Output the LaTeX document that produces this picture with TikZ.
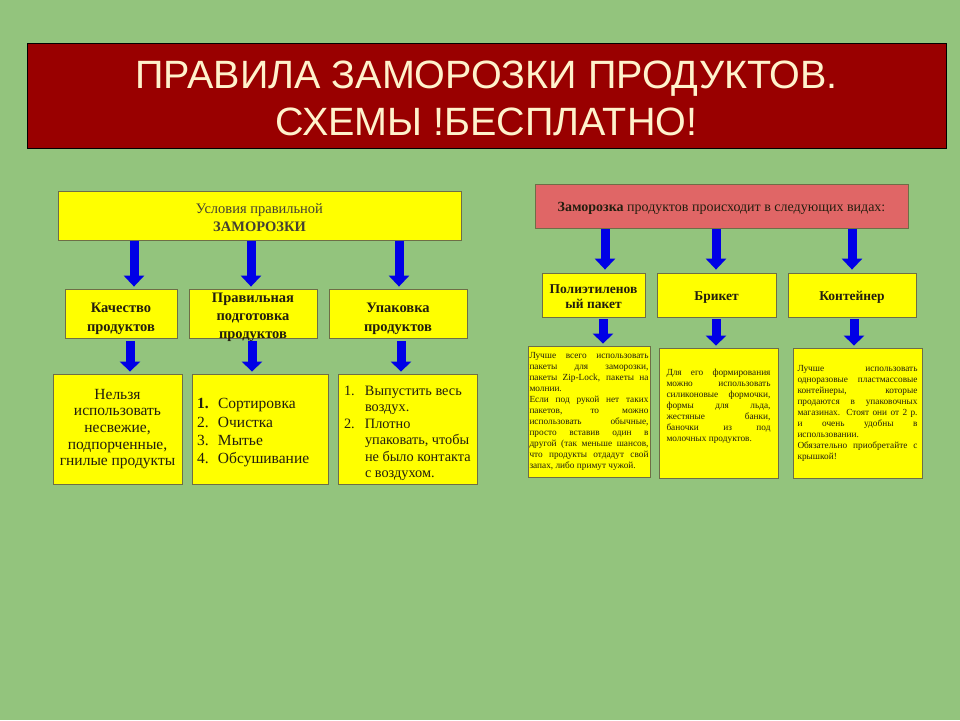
\documentclass[tikz,border=0pt]{standalone}
\usepackage{fontspec}
\setmainfont{Liberation Serif}
\newfontfamily\titlefont{Liberation Sans}
\usetikzlibrary{arrows.meta}
\definecolor{bg}{HTML}{93C47D}
\definecolor{darkred}{HTML}{990000}
\definecolor{cream}{HTML}{FFF2CC}
\definecolor{pinkred}{HTML}{E06666}
\definecolor{ylw}{HTML}{FFFF00}
\definecolor{edge}{RGB}{110,110,70}
\definecolor{arrowblue}{RGB}{0,0,230}
\definecolor{txt}{RGB}{35,30,15}
\newcommand{\jfont}{\fontsize{9.3}{11}\selectfont\parindent0pt\hyphenpenalty10000\exhyphenpenalty10000\relax}
\tikzset{
  ybox/.style={draw=edge, fill=ylw, line width=0.8pt, inner sep=0pt, align=center, text=txt},
  barrow/.style={draw=arrowblue, line width=9pt, -{Triangle[width=20pt,length=11pt]}},
  sarrow/.style={draw=arrowblue, line width=9pt, -{Triangle[width=20pt,length=10pt]}},
  jtext/.style={align=justify, font=\jfont},
}
\newcommand{\numitem}[1]{\makebox[21pt][l]{#1}}
% raise, width, content (centred)
\newcommand{\placed}[3]{\smash{\raisebox{#1}{\parbox[c]{#2}{\centering #3}}}}
% raise, width, content (left)
\newcommand{\placedl}[3]{\smash{\raisebox{#1}{\parbox[c]{#2}{\raggedright #3}}}}
\begin{document}
\begin{tikzpicture}[x=1pt,y=-1pt]
\fill[bg] (0,0) rectangle (960,720);
\useasboundingbox (0,0) rectangle (960,720);

% title
\node[draw=black, fill=darkred, line width=1pt, minimum width=919pt, minimum height=105pt,
  inner sep=0pt, text=cream, align=center, font=\titlefont\fontsize{39.5}{47}\selectfont]
  (title) at (486.5,95.5) {\placed{-9pt}{900pt}{ПРАВИЛА ЗАМОРОЗКИ ПРОДУКТОВ.\\СХЕМЫ !БЕСПЛАТНО!}};

% ---------- left panel ----------
\node[ybox, minimum width=403pt, minimum height=49pt, font=\fontsize{14.5}{18}\selectfont]
  (top) at (259.5,215.5) {\placed{-6pt}{300pt}{\color{txt!85}Условия правильной\\\textbf{ЗАМОРОЗКИ}}};

\node[ybox, minimum width=112pt, minimum height=49pt, font=\bfseries\fontsize{14.5}{19}\selectfont]
  (k1) at (121,313.5) {\placed{-9pt}{110pt}{Качество\\продуктов}};
\node[ybox, minimum width=128pt, minimum height=49pt, font=\bfseries\fontsize{14.5}{18}\selectfont]
  (k2) at (253,313.5) {\placed{-7.5pt}{126pt}{Правильная\\подготовка\\продуктов}};
\node[ybox, minimum width=138pt, minimum height=49pt, font=\bfseries\fontsize{14.5}{19}\selectfont]
  (k3) at (398,313.5) {\placed{-9pt}{136pt}{Упаковка\\продуктов}};

\node[ybox, minimum width=129pt, minimum height=110pt, font=\fontsize{15.5}{16.7}\selectfont]
  (b1) at (117.5,429) {Нельзя\\использовать\\несвежие,\\подпорченные,\\гнилые продукты};
\node[ybox, minimum width=136pt, minimum height=110pt, font=\fontsize{15.5}{18.3}\selectfont]
  (b2) at (260,429) {\placedl{-7.5pt}{126pt}{\numitem{\textbf{1.}}Сортировка\\\numitem{2.}Очистка\\\numitem{3.}Мытье\\\numitem{4.}Обсушивание}};
\node[ybox, minimum width=139pt, minimum height=110pt, font=\fontsize{14.3}{16.4}\selectfont]
  (b3) at (407.5,429) {\placedl{-8pt}{127pt}{\mbox{\numitem{1.}Выпустить весь}\\\mbox{\numitem{}воздух.}\\\mbox{\numitem{2.}Плотно}\\\mbox{\numitem{}упаковать, чтобы}\\\mbox{\numitem{}не было контакта}\\\mbox{\numitem{}с воздухом.}}};

\draw[barrow, shorten <=1pt, shorten >=2pt] (top.south -| 134,0) -- (k1.north -| 134,0);
\draw[barrow, shorten <=1pt, shorten >=2pt] (top.south -| 251,0) -- (k2.north -| 251,0);
\draw[barrow, shorten <=1pt, shorten >=2pt] (top.south -| 399,0) -- (k3.north -| 399,0);
\draw[sarrow, shorten <=3pt, shorten >=2pt] (k1.south -| 130,0) -- (b1.north -| 130,0);
\draw[sarrow, shorten <=3pt, shorten >=2pt] (k2.south -| 252,0) -- (b2.north -| 252,0);
\draw[sarrow, shorten <=3pt, shorten >=2pt] (k3.south -| 401,0) -- (b3.north -| 401,0);

% ---------- right panel ----------
\node[draw=edge, fill=pinkred, line width=0.8pt, inner sep=0pt, minimum width=373pt, minimum height=44pt,
  text=txt, font=\fontsize{14}{16}\selectfont]
  (red) at (721.5,206) {\placed{-6pt}{370pt}{\textbf{Заморозка} продуктов происходит в следующих видах:}};

\node[ybox, minimum width=103pt, minimum height=44pt, font=\bfseries\fontsize{13.5}{15.5}\selectfont]
  (p1) at (593.5,295) {\placed{-5pt}{101pt}{Полиэтиленов\\ый пакет}};
\node[ybox, minimum width=119pt, minimum height=44pt, font=\bfseries\fontsize{13.5}{15.5}\selectfont]
  (p2) at (716.5,295) {\placed{-6pt}{117pt}{Брикет}};
\node[ybox, minimum width=128pt, minimum height=44pt, font=\bfseries\fontsize{13.5}{15.5}\selectfont]
  (p3) at (852,295) {\placed{-6pt}{126pt}{Контейнер}};

\node[ybox, jtext, minimum width=122pt, minimum height=131pt, text width=119pt]
  (q1) at (589,411.5) {Лучше всего использовать\linebreak пакеты для заморозки,\linebreak пакеты Zip-Lock, пакеты на\linebreak молнии.\par
Если под рукой нет таких\linebreak пакетов, то можно\linebreak использовать обычные,\linebreak просто вставив один в\linebreak другой (так меньше шансов,\linebreak что продукты отдадут свой\linebreak запах, либо примут чужой.};
\node[ybox, jtext, minimum width=119pt, minimum height=130pt, text width=104pt]
  (q2) at (718.5,413) {Для его формирования\linebreak можно использовать\linebreak силиконовые формочки,\linebreak формы для льда,\linebreak жестяные банки,\linebreak баночки из под\linebreak молочных продуктов.\par\vspace*{13pt}};
\node[ybox, jtext, minimum width=129pt, minimum height=130pt, text width=120pt]
  (q3) at (857.5,413) {Лучше использовать\linebreak одноразовые пластмассовые\linebreak контейнеры, которые\linebreak продаются в упаковочных\linebreak магазинах. Стоят они от 2 р.\linebreak и очень удобны в\linebreak использовании.\par
Обязательно приобретайте с\linebreak крышкой!};

\draw[barrow, shorten <=1pt, shorten >=3pt] (red.south -| 605,0) -- (p1.north -| 605,0);
\draw[barrow, shorten <=1pt, shorten >=3pt] (red.south -| 716,0) -- (p2.north -| 716,0);
\draw[barrow, shorten <=1pt, shorten >=3pt] (red.south -| 852,0) -- (p3.north -| 852,0);
\draw[sarrow, shorten <=2pt, shorten >=2pt] (p1.south -| 603,0) -- (q1.north -| 603,0);
\draw[sarrow, shorten <=2pt, shorten >=2pt] (p2.south -| 716,0) -- (q2.north -| 716,0);
\draw[sarrow, shorten <=2pt, shorten >=2pt] (p3.south -| 854,0) -- (q3.north -| 854,0);
\end{tikzpicture}
\end{document}
